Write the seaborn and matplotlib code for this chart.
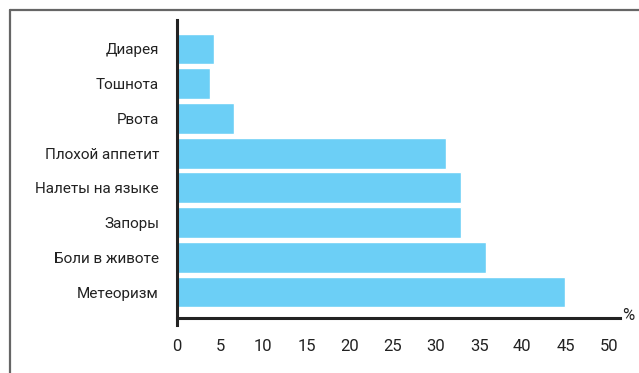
import matplotlib
matplotlib.use('Agg')
import matplotlib.pyplot as plt
import seaborn as sns
import pandas as pd
from matplotlib.lines import Line2D

# Symptom frequencies, %
symptoms = ['Диарея', 'Тошнота', 'Рвота', 'Плохой аппетит', 'Налеты на языке',
            'Запоры', 'Боли в животе', 'Метеоризм']
values = [4.3, 3.8, 6.6, 31.2, 32.9, 32.9, 35.8, 44.9]
ticks = [0, 5, 10, 15, 20, 25, 30, 35, 40, 45, 50]

df = pd.DataFrame({'symptom': symptoms, 'value': values})

sns.set_style('white')
plt.rcParams['font.family'] = ['Roboto', 'DejaVu Sans']

fig = plt.figure(figsize=(6.39, 3.73), dpi=100)
ax = fig.add_axes([177 / 639, (373 - 325) / 373, (620 - 177) / 639, (325 - 20) / 373])

sns.barplot(data=df, x='value', y='symptom', orient='h', color='#6CCFF6',
            saturation=1, width=0.89, ax=ax)

ax.set_xlim(0, 51.3)
ax.set_ylim(7.95, -0.835)
ax.set_xticks(ticks)
ax.set_xticklabels([str(t) for t in ticks])
ax.set_xlabel('')
ax.set_ylabel('')

for s in ['top', 'right']:
    ax.spines[s].set_visible(False)
ax.spines['left'].set_color('#222222')
ax.spines['left'].set_linewidth(2.2)
ax.spines['bottom'].set_color('#222222')
ax.spines['bottom'].set_linewidth(2.2)
ax.spines['bottom'].set_position(('data', 7.75))

ax.tick_params(axis='y', length=0, labelsize=11, colors='#222222', pad=13)
ax.tick_params(axis='x', length=0, labelsize=12, colors='#222222', pad=15)

ax.text(1.005, 0.03, '%', transform=ax.transAxes, fontsize=12,
        color='#222222', ha='left', va='center')

# grey frame (top and left edges visible)
fig.add_artist(Line2D([10 / 639, 1.0], [1 - 10 / 373, 1 - 10 / 373],
                      transform=fig.transFigure, color='#666666', linewidth=1.6))
fig.add_artist(Line2D([10 / 639, 10 / 639], [0.0, 1 - 10 / 373],
                      transform=fig.transFigure, color='#666666', linewidth=1.6))

fig.savefig('out.png', dpi=100)
